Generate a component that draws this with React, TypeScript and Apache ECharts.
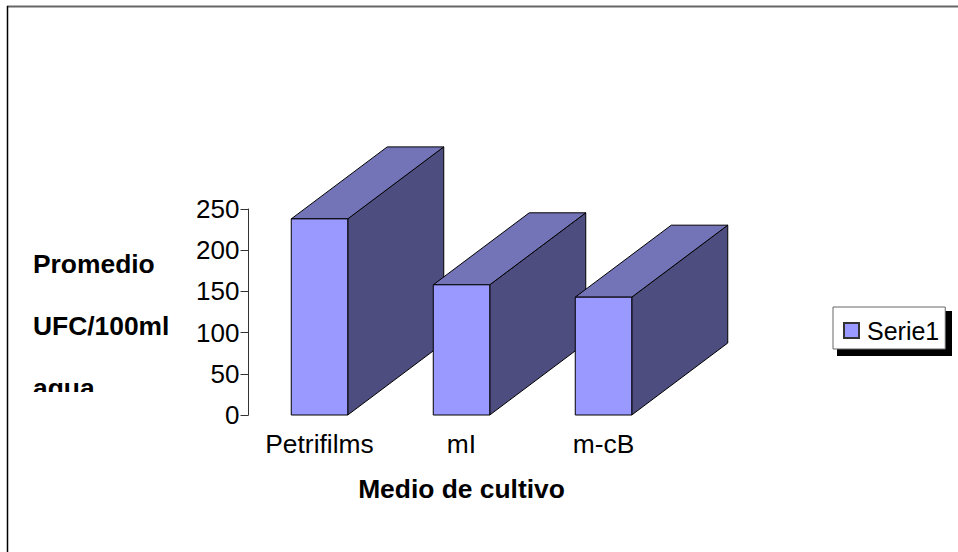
import React, { useEffect, useRef } from "react";
import * as echarts from "echarts";

const categories = ["Petrifilms", "mI", "m-cB"];
const seriesValues = [238, 158, 143];
const yTicks = { min: 0, max: 250, interval: 50 };
const seriesName = "Serie1";
const xTitle = "Medio de cultivo";
const yTitle = "Promedio\nUFC/100ml\nagua";

const FONT = "'Liberation Sans', Arial, sans-serif";
const FONT_SIZE = 26.4;
const FRONT = "#9999FF";
const TOP = "#7373B8";
const SIDE = "#4D4D80";
const BAR_W = 56.5;
const DX = 96;
const DY = 72;

function renderBox(_params: any, api: any) {
  const idx = api.value(0);
  const [cx, y1] = api.coord([idx, api.value(1)]);
  const [, y0] = api.coord([idx, 0]);
  const l = cx - BAR_W / 2;
  const r = cx + BAR_W / 2;
  const stroke = { stroke: "#000", lineWidth: 1 };
  return {
    type: "group",
    children: [
      {
        type: "polygon",
        shape: { points: [[r, y0], [r + DX, y0 - DY], [r + DX, y1 - DY], [r, y1]] },
        style: { fill: SIDE, ...stroke },
      },
      {
        type: "polygon",
        shape: { points: [[l, y1], [l + DX, y1 - DY], [r + DX, y1 - DY], [r, y1]] },
        style: { fill: TOP, ...stroke },
      },
      {
        type: "rect",
        shape: { x: l, y: y1, width: BAR_W, height: y0 - y1 },
        style: { fill: FRONT, ...stroke },
      },
    ],
  };
}

export default function App() {
  const ref = useRef<HTMLDivElement>(null);
  useEffect(() => {
    const chart = echarts.init(ref.current!, undefined, { renderer: "svg" });
    chart.setOption({
      animation: false,
      backgroundColor: "#fff",
      grid: { left: 248.5, top: 209, width: 426, height: 206 },
      xAxis: {
        type: "category",
        data: categories,
        axisLine: { show: false },
        axisTick: { show: false },
        axisLabel: { color: "#000", fontFamily: FONT, fontSize: FONT_SIZE, margin: 16, interval: 0, hideOverlap: false },
        name: xTitle,
        nameLocation: "middle",
        nameGap: 61,
        nameTextStyle: { color: "#000", fontFamily: FONT, fontSize: FONT_SIZE, fontWeight: "bold" },
      },
      yAxis: {
        type: "value",
        min: yTicks.min,
        max: yTicks.max,
        interval: yTicks.interval,
        splitLine: { show: false },
        axisLine: { show: true, lineStyle: { color: "#333", width: 1 } },
        axisTick: { show: true, length: 8, lineStyle: { color: "#333" } },
        axisLabel: { color: "#000", fontFamily: FONT, fontSize: 26, margin: 9 },
      },
      legend: {
        show: true,
        data: [seriesName],
        left: 833,
        top: 307,
        padding: [11, 6, 6, 10],
        itemWidth: 15,
        itemHeight: 15,
        icon: "rect",
        backgroundColor: "#fff",
        borderColor: "#666",
        borderWidth: 1,
        z: 5,
        textStyle: { color: "#000", fontFamily: FONT, fontSize: 25, padding: [3, 0, 0, 3] },
      },
      graphic: [
        { type: "line", z: 0, silent: true, shape: { x1: 7, y1: 6.5, x2: 958, y2: 6.5 }, style: { stroke: "#666", lineWidth: 2 } },
        { type: "line", z: 0, silent: true, shape: { x1: 7.5, y1: 6, x2: 7.5, y2: 552 }, style: { stroke: "#000", lineWidth: 1.5 } },
        {
          type: "text",
          z: 50,
          silent: true,
          x: 33,
          y: 233,
          style: {
            text: yTitle,
            fill: "#000",
            font: `bold ${FONT_SIZE}px ${FONT}`,
            lineHeight: 62,
            align: "left",
            verticalAlign: "top",
          },
        },
        { type: "rect", z: 100, silent: true, shape: { x: 20, y: 392, width: 165, height: 14 }, style: { fill: "#fff" } },
        { type: "rect", z: 1, silent: true, shape: { x: 837, y: 311, width: 115, height: 45 }, style: { fill: "#000" } },
      ],
      series: [
        {
          type: "custom",
          name: seriesName,
          renderItem: renderBox,
          encode: { x: 0, y: 1 },
          itemStyle: { color: FRONT, borderColor: "#333", borderWidth: 1 },
          data: seriesValues.map((v, i) => [i, v]),
          z: 3,
        },
      ],
    });
    return () => chart.dispose();
  }, []);
  return <div ref={ref} style={{ position: "fixed", left: 0, top: 0, width: 958, height: 552 }} />;
}
